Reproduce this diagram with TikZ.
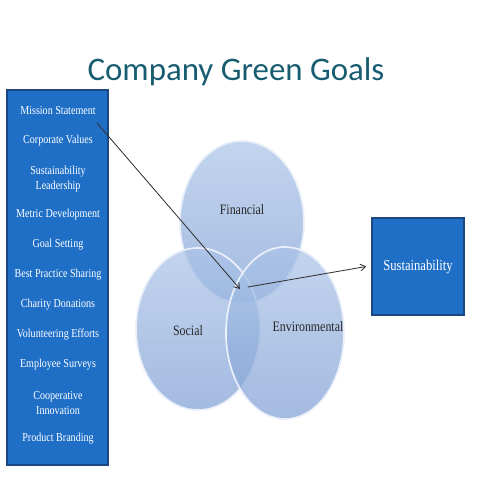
\documentclass[tikz,border=0pt]{standalone}
\usepackage{fontspec}
\usepackage{tikz}
\usepackage{xcolor}
\usetikzlibrary{arrows.meta}
\setmainfont{Liberation Serif}[FakeStretch=0.83]
\newfontfamily\titlefont{Carlito}
\definecolor{goalblue}{RGB}{31,111,199}
\definecolor{goalborder}{RGB}{28,72,130}
\definecolor{venntop}{RGB}{172,196,232}
\definecolor{vennbot}{RGB}{128,160,212}
\definecolor{titleteal}{RGB}{24,92,112}

\begin{document}
\begin{tikzpicture}[
    x=0.0208333cm, y=-0.0208333cm,
    panel/.style={draw=goalborder, fill=goalblue, line width=0.8pt},
    item/.style={text=white, align=center, font=\fontsize{7.2}{8.4}\selectfont, inner sep=0pt},
    ring/.style={top color=venntop, bottom color=vennbot, fill opacity=0.72, draw=white!75!venntop, line width=1pt},
    ringlabel/.style={font=\fontsize{8.5}{10}\selectfont, text=black!85},
    arrow/.style={-{Straight Barb[length=3pt,width=4pt]}, black!80, line width=0.5pt}
]
\useasboundingbox (0,0) rectangle (480,480);

% Title
\node[anchor=base, text=titleteal, font=\titlefont\fontsize{19.5}{22}\selectfont] (title) at (236,80) {Company Green Goals};

% Left panel with goal items
\draw[panel] (7,90) rectangle (108,465);
\node[item] (mission) at (58,111) {Mission Statement};
\node[item] (values) at (58,141) {Corporate Values};
\node[item] (leader) at (58,179) {Sustainability\\Leadership};
\node[item] (metric) at (58,215) {Metric Development};
\node[item] (goal) at (58,245) {Goal Setting};
\node[item] (practice) at (58,275) {Best Practice Sharing};
\node[item] (charity) at (58,305) {Charity Donations};
\node[item] (volunteer) at (58,335) {Volunteering Efforts};
\node[item] (survey) at (58,365) {Employee Surveys};
\node[item] (coop) at (58,403) {Cooperative\\Innovation};
\node[item] (brand) at (58,439) {Product Branding};
\coordinate (missionend) at (97,123);

% Venn circles
\draw[ring] (242,222) ellipse (62 and 81);
\draw[ring] (198,329) ellipse (62 and 81);
\draw[ring] (285,333) ellipse (59 and 86);
\node[ringlabel] (financial) at (242,210) {Financial};
\node[ringlabel] (social) at (188,331) {Social};
\node[ringlabel] (environ) at (308,327) {Environmental};
\coordinate (core) at (240,289);
\coordinate (coreout) at (248,287);

% Sustainability box
\node[panel, text=white, font=\fontsize{9}{11}\selectfont,
      minimum width=1.92cm, minimum height=2.02cm] (sustain) at (418,266.5) {Sustainability};

% Arrows
\draw[arrow] (missionend) -- (core);
\draw[arrow] (coreout) -- ([xshift=-3pt]sustain.west);

\end{tikzpicture}
\end{document}
